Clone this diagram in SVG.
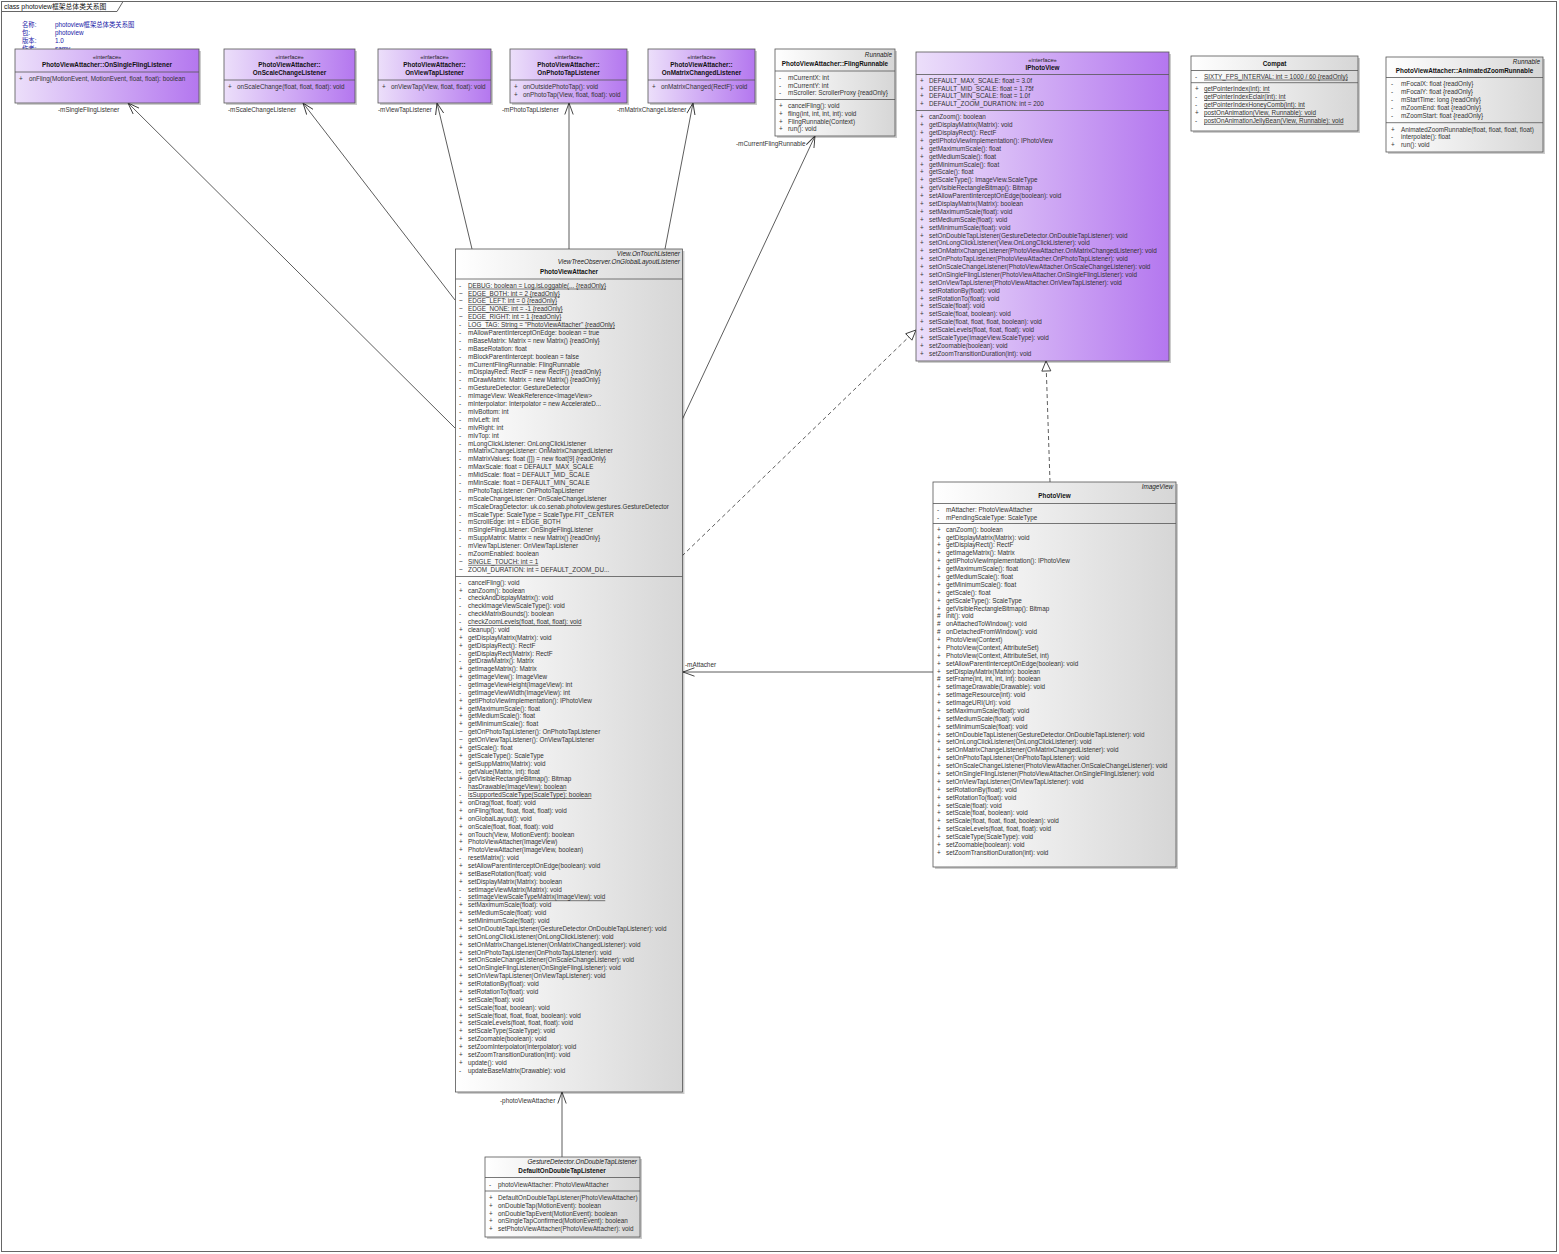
<svg xmlns="http://www.w3.org/2000/svg" width="1559" height="1254" viewBox="0 0 1559 1254">
<style>
.f{font-family:"Liberation Sans",Arial,"Noto Sans CJK SC",sans-serif;font-size:6.35px;fill:#333}
.st{font-size:5.8px;fill:#222}
.nm{font-weight:bold;fill:#111}
.it{font-style:italic;fill:#222}
.u{text-decoration:underline}
.hd{fill:#1a1aa8}
.bp{fill:url(#gp);stroke:#555;stroke-width:0.8}
.bg{fill:url(#gg);stroke:#555;stroke-width:0.8}
.sh{fill:#000;opacity:0.2}
.dv{stroke:#555;stroke-width:0.8}
.cn{stroke:#333;stroke-width:0.8;fill:none}
.ds{stroke-dasharray:4 3}
</style>
<defs>
<linearGradient id="gp" x1="0" y1="0" x2="1" y2="0"><stop offset="0" stop-color="#ecdffa"/><stop offset="1" stop-color="#b477ef"/></linearGradient>
<linearGradient id="gg" x1="0" y1="0" x2="1" y2="0"><stop offset="0" stop-color="#ffffff"/><stop offset="1" stop-color="#d6d6d6"/></linearGradient>
<marker id="open" viewBox="0 0 12 10" refX="11.5" refY="5" markerWidth="12" markerHeight="10" markerUnits="userSpaceOnUse" orient="auto"><path d="M0,0.8 L11.5,5 L0,9.2" fill="none" stroke="#333" stroke-width="0.9"/></marker>
<marker id="tri" viewBox="0 0 12 12" refX="11" refY="6" markerWidth="12" markerHeight="12" markerUnits="userSpaceOnUse" orient="auto"><path d="M1,1.5 L11,6 L1,10.5 Z" fill="#fff" stroke="#333" stroke-width="0.9"/></marker>
<clipPath id="clipDT"><rect x="485" y="1157" width="155" height="80"/></clipPath>
</defs>
<rect x="0" y="0" width="1559" height="1254" fill="#fff"/>
<g id="frame">
<rect x="1.5" y="1.5" width="1555" height="1250" fill="none" stroke="#666" stroke-width="1"/>
<path d="M1.5,11.5 H117 L123,1.5" fill="none" stroke="#666" stroke-width="1"/>
<text class="f" x="4" y="8.5" style="fill:#111;font-size:6.8px">class photoview框架总体类关系图</text>
</g>
<g id="info">
<text class="f hd" x="22" y="26.5">名称:</text><text class="f hd" x="55" y="26.5">photoview框架总体类关系图</text>
<text class="f hd" x="22" y="35">包:</text><text class="f hd" x="55" y="35">photoview</text>
<text class="f hd" x="22" y="43">版本:</text><text class="f hd" x="55" y="43">1.0</text>
<text class="f hd" x="22" y="51">作者:</text><text class="f hd" x="55" y="51">samy</text>
</g>

<g id="connectors">
<path class="cn" d="M455,428 L128,103" marker-end="url(#open)"/>
<path class="cn" d="M455,300 L303,103" marker-end="url(#open)"/>
<path class="cn" d="M472,249 L437,103" marker-end="url(#open)"/>
<path class="cn" d="M569,249 L569,103" marker-end="url(#open)"/>
<path class="cn" d="M665,249 L693,103" marker-end="url(#open)"/>
<path class="cn" d="M682,420 L815,136" marker-end="url(#open)"/>
<path class="cn" d="M933,672 L683,672" marker-end="url(#open)"/>
<path class="cn" d="M562,1157 L562,1092" marker-end="url(#open)"/>
<path class="cn ds" d="M682,556 L916,330" marker-end="url(#tri)"/>
<path class="cn ds" d="M1050,482 L1046,361" marker-end="url(#tri)"/>
<text class="f" x="58" y="112">-mSingleFlingListener</text>
<text class="f" x="228" y="112">-mScaleChangeListener</text>
<text class="f" x="378" y="112">-mViewTapListener</text>
<text class="f" x="502" y="112">-mPhotoTapListener</text>
<text class="f" x="617" y="112">-mMatrixChangeListener</text>
<text class="f" x="736" y="146">-mCurrentFlingRunnable</text>
<text class="f" x="685" y="667">-mAttacher</text>
<text class="f" x="500" y="1103">-photoViewAttacher</text>
</g>

<g id="OnSingleFlingListener">
<rect class="sh" x="17" y="51" width="184" height="54"/>
<rect class="bp" x="15" y="49" width="184" height="54"/>
<text class="f st" x="107" y="59" text-anchor="middle">«interface»</text>
<text class="f nm" x="107" y="66.5" text-anchor="middle">PhotoViewAttacher::OnSingleFlingListener</text>
<line class="dv" x1="15" y1="72" x2="199" y2="72"/>
<text class="f" x="19" y="80.5">+</text><text class="f" x="29" y="80.5">onFling(MotionEvent, MotionEvent, float, float): boolean</text>
</g>

<g id="OnScaleChangeListener">
<rect class="sh" x="226" y="51" width="131" height="54"/>
<rect class="bp" x="224" y="49" width="131" height="54"/>
<text class="f st" x="289.5" y="59" text-anchor="middle">«interface»</text>
<text class="f nm" x="289.5" y="66.5" text-anchor="middle">PhotoViewAttacher::</text>
<text class="f nm" x="289.5" y="74.5" text-anchor="middle">OnScaleChangeListener</text>
<line class="dv" x1="224" y1="80" x2="355" y2="80"/>
<text class="f" x="228" y="88.5">+</text><text class="f" x="237" y="88.5">onScaleChange(float, float, float): void</text>
</g>

<g id="OnViewTapListener">
<rect class="sh" x="380" y="51" width="113" height="54"/>
<rect class="bp" x="378" y="49" width="113" height="54"/>
<text class="f st" x="434.5" y="59" text-anchor="middle">«interface»</text>
<text class="f nm" x="434.5" y="66.5" text-anchor="middle">PhotoViewAttacher::</text>
<text class="f nm" x="434.5" y="74.5" text-anchor="middle">OnViewTapListener</text>
<line class="dv" x1="378" y1="80" x2="491" y2="80"/>
<text class="f" x="382" y="88.5">+</text><text class="f" x="391" y="88.5">onViewTap(View, float, float): void</text>
</g>

<g id="OnPhotoTapListener">
<rect class="sh" x="512" y="51" width="117" height="54"/>
<rect class="bp" x="510" y="49" width="117" height="54"/>
<text class="f st" x="568.5" y="59" text-anchor="middle">«interface»</text>
<text class="f nm" x="568.5" y="66.5" text-anchor="middle">PhotoViewAttacher::</text>
<text class="f nm" x="568.5" y="74.5" text-anchor="middle">OnPhotoTapListener</text>
<line class="dv" x1="510" y1="80" x2="627" y2="80"/>
<text class="f" x="514" y="88.5">+</text><text class="f" x="523" y="88.5">onOutsidePhotoTap(): void</text>
<text class="f" x="514" y="96.5">+</text><text class="f" x="523" y="96.5">onPhotoTap(View, float, float): void</text>
</g>

<g id="OnMatrixChangedListener">
<rect class="sh" x="650" y="51" width="107" height="54"/>
<rect class="bp" x="648" y="49" width="107" height="54"/>
<text class="f st" x="701.5" y="59" text-anchor="middle">«interface»</text>
<text class="f nm" x="701.5" y="66.5" text-anchor="middle">PhotoViewAttacher::</text>
<text class="f nm" x="701.5" y="74.5" text-anchor="middle">OnMatrixChangedListener</text>
<line class="dv" x1="648" y1="80" x2="755" y2="80"/>
<text class="f" x="652" y="88.5">+</text><text class="f" x="661" y="88.5">onMatrixChanged(RectF): void</text>
</g>

<g id="FlingRunnable">
<rect class="sh" x="777" y="51" width="120" height="87"/>
<rect class="bg" x="775" y="49" width="120" height="87"/>
<text class="f it" x="892" y="57" text-anchor="end">Runnable</text>
<text class="f nm" x="835" y="66" text-anchor="middle">PhotoViewAttacher::FlingRunnable</text>
<line class="dv" x1="775" y1="71" x2="895" y2="71"/>
<text class="f" x="779" y="80"><tspan x="779">-</tspan><tspan x="779" dy="7.7">-</tspan><tspan x="779" dy="7.7">-</tspan></text>
<text class="f" x="788" y="80"><tspan x="788">mCurrentX: int</tspan><tspan x="788" dy="7.7">mCurrentY: int</tspan><tspan x="788" dy="7.7">mScroller: ScrollerProxy {readOnly}</tspan></text>
<line class="dv" x1="775" y1="99.5" x2="895" y2="99.5"/>
<text class="f" x="779" y="108"><tspan x="779">+</tspan><tspan x="779" dy="7.8">+</tspan><tspan x="779" dy="7.8">+</tspan><tspan x="779" dy="7.8">+</tspan></text>
<text class="f" x="788" y="108"><tspan x="788">cancelFling(): void</tspan><tspan x="788" dy="7.8">fling(int, int, int, int): void</tspan><tspan x="788" dy="7.8">FlingRunnable(Context)</tspan><tspan x="788" dy="7.8">run(): void</tspan></text>
</g>

<g id="IPhotoView">
<rect class="sh" x="918" y="54" width="253" height="309"/>
<rect class="bp" x="916" y="52" width="253" height="309"/>
<text class="f st" x="1042.5" y="62" text-anchor="middle">«interface»</text>
<text class="f nm" x="1042.5" y="69.5" text-anchor="middle">IPhotoView</text>
<line class="dv" x1="916" y1="74.5" x2="1169" y2="74.5"/>
<text class="f" x="920" y="82.7"><tspan x="920">+</tspan><tspan x="920" dy="7.88">+</tspan><tspan x="920" dy="7.88">+</tspan><tspan x="920" dy="7.88">+</tspan></text>
<text class="f" x="929" y="82.7"><tspan x="929">DEFAULT_MAX_SCALE: float = 3.0f</tspan><tspan x="929" dy="7.88">DEFAULT_MID_SCALE: float = 1.75f</tspan><tspan x="929" dy="7.88">DEFAULT_MIN_SCALE: float = 1.0f</tspan><tspan x="929" dy="7.88">DEFAULT_ZOOM_DURATION: int = 200</tspan></text>
<line class="dv" x1="916" y1="110.5" x2="1169" y2="110.5"/>
<text class="f" x="920" y="119.3"><tspan x="920">+</tspan><tspan x="920" dy="7.88">+</tspan><tspan x="920" dy="7.88">+</tspan><tspan x="920" dy="7.88">+</tspan><tspan x="920" dy="7.88">+</tspan><tspan x="920" dy="7.88">+</tspan><tspan x="920" dy="7.88">+</tspan><tspan x="920" dy="7.88">+</tspan><tspan x="920" dy="7.88">+</tspan><tspan x="920" dy="7.88">+</tspan><tspan x="920" dy="7.88">+</tspan><tspan x="920" dy="7.88">+</tspan><tspan x="920" dy="7.88">+</tspan><tspan x="920" dy="7.88">+</tspan><tspan x="920" dy="7.88">+</tspan><tspan x="920" dy="7.88">+</tspan><tspan x="920" dy="7.88">+</tspan><tspan x="920" dy="7.88">+</tspan><tspan x="920" dy="7.88">+</tspan><tspan x="920" dy="7.88">+</tspan><tspan x="920" dy="7.88">+</tspan><tspan x="920" dy="7.88">+</tspan><tspan x="920" dy="7.88">+</tspan><tspan x="920" dy="7.88">+</tspan><tspan x="920" dy="7.88">+</tspan><tspan x="920" dy="7.88">+</tspan><tspan x="920" dy="7.88">+</tspan><tspan x="920" dy="7.88">+</tspan><tspan x="920" dy="7.88">+</tspan><tspan x="920" dy="7.88">+</tspan><tspan x="920" dy="7.88">+</tspan></text>
<text class="f" x="929" y="119.3"><tspan x="929">canZoom(): boolean</tspan><tspan x="929" dy="7.88">getDisplayMatrix(Matrix): void</tspan><tspan x="929" dy="7.88">getDisplayRect(): RectF</tspan><tspan x="929" dy="7.88">getIPhotoViewImplementation(): IPhotoView</tspan><tspan x="929" dy="7.88">getMaximumScale(): float</tspan><tspan x="929" dy="7.88">getMediumScale(): float</tspan><tspan x="929" dy="7.88">getMinimumScale(): float</tspan><tspan x="929" dy="7.88">getScale(): float</tspan><tspan x="929" dy="7.88">getScaleType(): ImageView.ScaleType</tspan><tspan x="929" dy="7.88">getVisibleRectangleBitmap(): Bitmap</tspan><tspan x="929" dy="7.88">setAllowParentInterceptOnEdge(boolean): void</tspan><tspan x="929" dy="7.88">setDisplayMatrix(Matrix): boolean</tspan><tspan x="929" dy="7.88">setMaximumScale(float): void</tspan><tspan x="929" dy="7.88">setMediumScale(float): void</tspan><tspan x="929" dy="7.88">setMinimumScale(float): void</tspan><tspan x="929" dy="7.88">setOnDoubleTapListener(GestureDetector.OnDoubleTapListener): void</tspan><tspan x="929" dy="7.88">setOnLongClickListener(View.OnLongClickListener): void</tspan><tspan x="929" dy="7.88">setOnMatrixChangeListener(PhotoViewAttacher.OnMatrixChangedListener): void</tspan><tspan x="929" dy="7.88">setOnPhotoTapListener(PhotoViewAttacher.OnPhotoTapListener): void</tspan><tspan x="929" dy="7.88">setOnScaleChangeListener(PhotoViewAttacher.OnScaleChangeListener): void</tspan><tspan x="929" dy="7.88">setOnSingleFlingListener(PhotoViewAttacher.OnSingleFlingListener): void</tspan><tspan x="929" dy="7.88">setOnViewTapListener(PhotoViewAttacher.OnViewTapListener): void</tspan><tspan x="929" dy="7.88">setRotationBy(float): void</tspan><tspan x="929" dy="7.88">setRotationTo(float): void</tspan><tspan x="929" dy="7.88">setScale(float): void</tspan><tspan x="929" dy="7.88">setScale(float, boolean): void</tspan><tspan x="929" dy="7.88">setScale(float, float, float, boolean): void</tspan><tspan x="929" dy="7.88">setScaleLevels(float, float, float): void</tspan><tspan x="929" dy="7.88">setScaleType(ImageView.ScaleType): void</tspan><tspan x="929" dy="7.88">setZoomable(boolean): void</tspan><tspan x="929" dy="7.88">setZoomTransitionDuration(int): void</tspan></text>
</g>

<g id="Compat">
<rect class="sh" x="1193" y="58" width="167" height="75"/>
<rect class="bg" x="1191" y="56" width="167" height="75"/>
<text class="f nm" x="1274.5" y="66" text-anchor="middle">Compat</text>
<line class="dv" x1="1191" y1="70.5" x2="1358" y2="70.5"/>
<text class="f" x="1195" y="78.7">-</text><text class="f u" x="1204" y="78.7">SIXTY_FPS_INTERVAL: int = 1000 / 60 {readOnly}</text>
<line class="dv" x1="1191" y1="82.7" x2="1358" y2="82.7"/>
<text class="f" x="1195" y="91.3"><tspan x="1195">+</tspan><tspan x="1195" dy="7.9">-</tspan><tspan x="1195" dy="7.9">-</tspan><tspan x="1195" dy="7.9">+</tspan><tspan x="1195" dy="7.9">-</tspan></text>
<text class="f u" x="1204" y="91.3"><tspan x="1204">getPointerIndex(int): int</tspan><tspan x="1204" dy="7.9">getPointerIndexEclair(int): int</tspan><tspan x="1204" dy="7.9">getPointerIndexHoneyComb(int): int</tspan><tspan x="1204" dy="7.9">postOnAnimation(View, Runnable): void</tspan><tspan x="1204" dy="7.9">postOnAnimationJellyBean(View, Runnable): void</tspan></text>
</g>

<g id="AnimatedZoomRunnable">
<rect class="sh" x="1388" y="59" width="157" height="95"/>
<rect class="bg" x="1386" y="57" width="157" height="95"/>
<text class="f it" x="1540" y="63.7" text-anchor="end">Runnable</text>
<text class="f nm" x="1464.5" y="73" text-anchor="middle">PhotoViewAttacher::AnimatedZoomRunnable</text>
<line class="dv" x1="1386" y1="77.5" x2="1543" y2="77.5"/>
<text class="f" x="1391" y="86.3"><tspan x="1391">-</tspan><tspan x="1391" dy="7.9">-</tspan><tspan x="1391" dy="7.9">-</tspan><tspan x="1391" dy="7.9">-</tspan><tspan x="1391" dy="7.9">-</tspan></text>
<text class="f" x="1401" y="86.3"><tspan x="1401">mFocalX: float {readOnly}</tspan><tspan x="1401" dy="7.9">mFocalY: float {readOnly}</tspan><tspan x="1401" dy="7.9">mStartTime: long {readOnly}</tspan><tspan x="1401" dy="7.9">mZoomEnd: float {readOnly}</tspan><tspan x="1401" dy="7.9">mZoomStart: float {readOnly}</tspan></text>
<line class="dv" x1="1386" y1="122.7" x2="1543" y2="122.7"/>
<text class="f" x="1391" y="131.5"><tspan x="1391">+</tspan><tspan x="1391" dy="7.9">-</tspan><tspan x="1391" dy="7.9">+</tspan></text>
<text class="f" x="1401" y="131.5"><tspan x="1401">AnimatedZoomRunnable(float, float, float, float)</tspan><tspan x="1401" dy="7.9">interpolate(): float</tspan><tspan x="1401" dy="7.9">run(): void</tspan></text>
</g>

<g id="PhotoViewAttacher">
<rect class="sh" x="457.5" y="251" width="227" height="843"/>
<rect class="bg" x="455.5" y="249" width="227" height="843"/>
<text class="f it" x="680" y="256.3" text-anchor="end">View.OnTouchListener</text>
<text class="f it" x="680" y="264.3" text-anchor="end">ViewTreeObserver.OnGlobalLayoutListener</text>
<text class="f nm" x="569" y="273.7" text-anchor="middle">PhotoViewAttacher</text>
<line class="dv" x1="455.5" y1="279" x2="682.5" y2="279"/>
<text class="f" x="459" y="287.7"><tspan x="459">-</tspan><tspan x="459" dy="7.89">~</tspan><tspan x="459" dy="7.89">~</tspan><tspan x="459" dy="7.89">~</tspan><tspan x="459" dy="7.89">~</tspan><tspan x="459" dy="7.89">-</tspan><tspan x="459" dy="7.89">-</tspan><tspan x="459" dy="7.89">-</tspan><tspan x="459" dy="7.89">-</tspan><tspan x="459" dy="7.89">-</tspan><tspan x="459" dy="7.89">-</tspan><tspan x="459" dy="7.89">-</tspan><tspan x="459" dy="7.89">-</tspan><tspan x="459" dy="7.89">-</tspan><tspan x="459" dy="7.89">-</tspan><tspan x="459" dy="7.89">-</tspan><tspan x="459" dy="7.89">-</tspan><tspan x="459" dy="7.89">-</tspan><tspan x="459" dy="7.89">-</tspan><tspan x="459" dy="7.89">-</tspan><tspan x="459" dy="7.89">-</tspan><tspan x="459" dy="7.89">-</tspan><tspan x="459" dy="7.89">-</tspan><tspan x="459" dy="7.89">-</tspan><tspan x="459" dy="7.89">-</tspan><tspan x="459" dy="7.89">-</tspan><tspan x="459" dy="7.89">-</tspan><tspan x="459" dy="7.89">-</tspan><tspan x="459" dy="7.89">-</tspan><tspan x="459" dy="7.89">-</tspan><tspan x="459" dy="7.89">-</tspan><tspan x="459" dy="7.89">-</tspan><tspan x="459" dy="7.89">-</tspan><tspan x="459" dy="7.89">-</tspan><tspan x="459" dy="7.89">-</tspan><tspan x="459" dy="7.89">~</tspan><tspan x="459" dy="7.89">~</tspan></text>
<text class="f" x="468" y="287.7"><tspan x="468" class="u">DEBUG: boolean = Log.isLoggable(... {readOnly}</tspan><tspan x="468" dy="7.89" class="u">EDGE_BOTH: int = 2 {readOnly}</tspan><tspan x="468" dy="7.89" class="u">EDGE_LEFT: int = 0 {readOnly}</tspan><tspan x="468" dy="7.89" class="u">EDGE_NONE: int = -1 {readOnly}</tspan><tspan x="468" dy="7.89" class="u">EDGE_RIGHT: int = 1 {readOnly}</tspan><tspan x="468" dy="7.89" class="u">LOG_TAG: String = "PhotoViewAttacher" {readOnly}</tspan><tspan x="468" dy="7.89">mAllowParentInterceptOnEdge: boolean = true</tspan><tspan x="468" dy="7.89">mBaseMatrix: Matrix = new Matrix() {readOnly}</tspan><tspan x="468" dy="7.89">mBaseRotation: float</tspan><tspan x="468" dy="7.89">mBlockParentIntercept: boolean = false</tspan><tspan x="468" dy="7.89">mCurrentFlingRunnable: FlingRunnable</tspan><tspan x="468" dy="7.89">mDisplayRect: RectF = new RectF() {readOnly}</tspan><tspan x="468" dy="7.89">mDrawMatrix: Matrix = new Matrix() {readOnly}</tspan><tspan x="468" dy="7.89">mGestureDetector: GestureDetector</tspan><tspan x="468" dy="7.89">mImageView: WeakReference&lt;ImageView&gt;</tspan><tspan x="468" dy="7.89">mInterpolator: Interpolator = new AccelerateD...</tspan><tspan x="468" dy="7.89">mIvBottom: int</tspan><tspan x="468" dy="7.89">mIvLeft: int</tspan><tspan x="468" dy="7.89">mIvRight: int</tspan><tspan x="468" dy="7.89">mIvTop: int</tspan><tspan x="468" dy="7.89">mLongClickListener: OnLongClickListener</tspan><tspan x="468" dy="7.89">mMatrixChangeListener: OnMatrixChangedListener</tspan><tspan x="468" dy="7.89">mMatrixValues: float ([]) = new float[9] {readOnly}</tspan><tspan x="468" dy="7.89">mMaxScale: float = DEFAULT_MAX_SCALE</tspan><tspan x="468" dy="7.89">mMidScale: float = DEFAULT_MID_SCALE</tspan><tspan x="468" dy="7.89">mMinScale: float = DEFAULT_MIN_SCALE</tspan><tspan x="468" dy="7.89">mPhotoTapListener: OnPhotoTapListener</tspan><tspan x="468" dy="7.89">mScaleChangeListener: OnScaleChangeListener</tspan><tspan x="468" dy="7.89">mScaleDragDetector: uk.co.senab.photoview.gestures.GestureDetector</tspan><tspan x="468" dy="7.89">mScaleType: ScaleType = ScaleType.FIT_CENTER</tspan><tspan x="468" dy="7.89">mScrollEdge: int = EDGE_BOTH</tspan><tspan x="468" dy="7.89">mSingleFlingListener: OnSingleFlingListener</tspan><tspan x="468" dy="7.89">mSuppMatrix: Matrix = new Matrix() {readOnly}</tspan><tspan x="468" dy="7.89">mViewTapListener: OnViewTapListener</tspan><tspan x="468" dy="7.89">mZoomEnabled: boolean</tspan><tspan x="468" dy="7.89" class="u">SINGLE_TOUCH: int = 1</tspan><tspan x="468" dy="7.89">ZOOM_DURATION: int = DEFAULT_ZOOM_DU...</tspan></text>
<line class="dv" x1="455.5" y1="576.5" x2="682.5" y2="576.5"/>
<text class="f" x="459" y="584.7"><tspan x="459">-</tspan><tspan x="459" dy="7.87">+</tspan><tspan x="459" dy="7.87">-</tspan><tspan x="459" dy="7.87">-</tspan><tspan x="459" dy="7.87">-</tspan><tspan x="459" dy="7.87">-</tspan><tspan x="459" dy="7.87">+</tspan><tspan x="459" dy="7.87">+</tspan><tspan x="459" dy="7.87">+</tspan><tspan x="459" dy="7.87">-</tspan><tspan x="459" dy="7.87">-</tspan><tspan x="459" dy="7.87">+</tspan><tspan x="459" dy="7.87">+</tspan><tspan x="459" dy="7.87">-</tspan><tspan x="459" dy="7.87">-</tspan><tspan x="459" dy="7.87">+</tspan><tspan x="459" dy="7.87">+</tspan><tspan x="459" dy="7.87">+</tspan><tspan x="459" dy="7.87">+</tspan><tspan x="459" dy="7.87">~</tspan><tspan x="459" dy="7.87">~</tspan><tspan x="459" dy="7.87">+</tspan><tspan x="459" dy="7.87">+</tspan><tspan x="459" dy="7.87">+</tspan><tspan x="459" dy="7.87">-</tspan><tspan x="459" dy="7.87">+</tspan><tspan x="459" dy="7.87">-</tspan><tspan x="459" dy="7.87">-</tspan><tspan x="459" dy="7.87">+</tspan><tspan x="459" dy="7.87">+</tspan><tspan x="459" dy="7.87">+</tspan><tspan x="459" dy="7.87">+</tspan><tspan x="459" dy="7.87">+</tspan><tspan x="459" dy="7.87">+</tspan><tspan x="459" dy="7.87">+</tspan><tspan x="459" dy="7.87">-</tspan><tspan x="459" dy="7.87">+</tspan><tspan x="459" dy="7.87">+</tspan><tspan x="459" dy="7.87">+</tspan><tspan x="459" dy="7.87">-</tspan><tspan x="459" dy="7.87">-</tspan><tspan x="459" dy="7.87">+</tspan><tspan x="459" dy="7.87">+</tspan><tspan x="459" dy="7.87">+</tspan><tspan x="459" dy="7.87">+</tspan><tspan x="459" dy="7.87">+</tspan><tspan x="459" dy="7.87">+</tspan><tspan x="459" dy="7.87">+</tspan><tspan x="459" dy="7.87">+</tspan><tspan x="459" dy="7.87">+</tspan><tspan x="459" dy="7.87">+</tspan><tspan x="459" dy="7.87">+</tspan><tspan x="459" dy="7.87">+</tspan><tspan x="459" dy="7.87">+</tspan><tspan x="459" dy="7.87">+</tspan><tspan x="459" dy="7.87">+</tspan><tspan x="459" dy="7.87">+</tspan><tspan x="459" dy="7.87">+</tspan><tspan x="459" dy="7.87">+</tspan><tspan x="459" dy="7.87">+</tspan><tspan x="459" dy="7.87">+</tspan><tspan x="459" dy="7.87">+</tspan><tspan x="459" dy="7.87">-</tspan></text>
<text class="f" x="468" y="584.7"><tspan x="468">cancelFling(): void</tspan><tspan x="468" dy="7.87">canZoom(): boolean</tspan><tspan x="468" dy="7.87">checkAndDisplayMatrix(): void</tspan><tspan x="468" dy="7.87">checkImageViewScaleType(): void</tspan><tspan x="468" dy="7.87">checkMatrixBounds(): boolean</tspan><tspan x="468" dy="7.87" class="u">checkZoomLevels(float, float, float): void</tspan><tspan x="468" dy="7.87">cleanup(): void</tspan><tspan x="468" dy="7.87">getDisplayMatrix(Matrix): void</tspan><tspan x="468" dy="7.87">getDisplayRect(): RectF</tspan><tspan x="468" dy="7.87">getDisplayRect(Matrix): RectF</tspan><tspan x="468" dy="7.87">getDrawMatrix(): Matrix</tspan><tspan x="468" dy="7.87">getImageMatrix(): Matrix</tspan><tspan x="468" dy="7.87">getImageView(): ImageView</tspan><tspan x="468" dy="7.87">getImageViewHeight(ImageView): int</tspan><tspan x="468" dy="7.87">getImageViewWidth(ImageView): int</tspan><tspan x="468" dy="7.87">getIPhotoViewImplementation(): IPhotoView</tspan><tspan x="468" dy="7.87">getMaximumScale(): float</tspan><tspan x="468" dy="7.87">getMediumScale(): float</tspan><tspan x="468" dy="7.87">getMinimumScale(): float</tspan><tspan x="468" dy="7.87">getOnPhotoTapListener(): OnPhotoTapListener</tspan><tspan x="468" dy="7.87">getOnViewTapListener(): OnViewTapListener</tspan><tspan x="468" dy="7.87">getScale(): float</tspan><tspan x="468" dy="7.87">getScaleType(): ScaleType</tspan><tspan x="468" dy="7.87">getSuppMatrix(Matrix): void</tspan><tspan x="468" dy="7.87">getValue(Matrix, int): float</tspan><tspan x="468" dy="7.87">getVisibleRectangleBitmap(): Bitmap</tspan><tspan x="468" dy="7.87" class="u">hasDrawable(ImageView): boolean</tspan><tspan x="468" dy="7.87" class="u">isSupportedScaleType(ScaleType): boolean</tspan><tspan x="468" dy="7.87">onDrag(float, float): void</tspan><tspan x="468" dy="7.87">onFling(float, float, float, float): void</tspan><tspan x="468" dy="7.87">onGlobalLayout(): void</tspan><tspan x="468" dy="7.87">onScale(float, float, float): void</tspan><tspan x="468" dy="7.87">onTouch(View, MotionEvent): boolean</tspan><tspan x="468" dy="7.87">PhotoViewAttacher(ImageView)</tspan><tspan x="468" dy="7.87">PhotoViewAttacher(ImageView, boolean)</tspan><tspan x="468" dy="7.87">resetMatrix(): void</tspan><tspan x="468" dy="7.87">setAllowParentInterceptOnEdge(boolean): void</tspan><tspan x="468" dy="7.87">setBaseRotation(float): void</tspan><tspan x="468" dy="7.87">setDisplayMatrix(Matrix): boolean</tspan><tspan x="468" dy="7.87">setImageViewMatrix(Matrix): void</tspan><tspan x="468" dy="7.87" class="u">setImageViewScaleTypeMatrix(ImageView): void</tspan><tspan x="468" dy="7.87">setMaximumScale(float): void</tspan><tspan x="468" dy="7.87">setMediumScale(float): void</tspan><tspan x="468" dy="7.87">setMinimumScale(float): void</tspan><tspan x="468" dy="7.87">setOnDoubleTapListener(GestureDetector.OnDoubleTapListener): void</tspan><tspan x="468" dy="7.87">setOnLongClickListener(OnLongClickListener): void</tspan><tspan x="468" dy="7.87">setOnMatrixChangeListener(OnMatrixChangedListener): void</tspan><tspan x="468" dy="7.87">setOnPhotoTapListener(OnPhotoTapListener): void</tspan><tspan x="468" dy="7.87">setOnScaleChangeListener(OnScaleChangeListener): void</tspan><tspan x="468" dy="7.87">setOnSingleFlingListener(OnSingleFlingListener): void</tspan><tspan x="468" dy="7.87">setOnViewTapListener(OnViewTapListener): void</tspan><tspan x="468" dy="7.87">setRotationBy(float): void</tspan><tspan x="468" dy="7.87">setRotationTo(float): void</tspan><tspan x="468" dy="7.87">setScale(float): void</tspan><tspan x="468" dy="7.87">setScale(float, boolean): void</tspan><tspan x="468" dy="7.87">setScale(float, float, float, boolean): void</tspan><tspan x="468" dy="7.87">setScaleLevels(float, float, float): void</tspan><tspan x="468" dy="7.87">setScaleType(ScaleType): void</tspan><tspan x="468" dy="7.87">setZoomable(boolean): void</tspan><tspan x="468" dy="7.87">setZoomInterpolator(Interpolator): void</tspan><tspan x="468" dy="7.87">setZoomTransitionDuration(int): void</tspan><tspan x="468" dy="7.87">update(): void</tspan><tspan x="468" dy="7.87">updateBaseMatrix(Drawable): void</tspan></text>
</g>

<g id="PhotoView">
<rect class="sh" x="935" y="484" width="243" height="385"/>
<rect class="bg" x="933" y="482" width="243" height="385"/>
<text class="f it" x="1173" y="489.3" text-anchor="end">ImageView</text>
<text class="f nm" x="1054.5" y="498.3" text-anchor="middle">PhotoView</text>
<line class="dv" x1="933" y1="503.5" x2="1176" y2="503.5"/>
<text class="f" x="937" y="511.7"><tspan x="937">-</tspan><tspan x="937" dy="7.88">-</tspan></text>
<text class="f" x="946" y="511.7"><tspan x="946">mAttacher: PhotoViewAttacher</tspan><tspan x="946" dy="7.88">mPendingScaleType: ScaleType</tspan></text>
<line class="dv" x1="933" y1="523.5" x2="1176" y2="523.5"/>
<text class="f" x="937" y="531.7"><tspan x="937">+</tspan><tspan x="937" dy="7.88">+</tspan><tspan x="937" dy="7.88">+</tspan><tspan x="937" dy="7.88">+</tspan><tspan x="937" dy="7.88">+</tspan><tspan x="937" dy="7.88">+</tspan><tspan x="937" dy="7.88">+</tspan><tspan x="937" dy="7.88">+</tspan><tspan x="937" dy="7.88">+</tspan><tspan x="937" dy="7.88">+</tspan><tspan x="937" dy="7.88">+</tspan><tspan x="937" dy="7.88">#</tspan><tspan x="937" dy="7.88">#</tspan><tspan x="937" dy="7.88">#</tspan><tspan x="937" dy="7.88">+</tspan><tspan x="937" dy="7.88">+</tspan><tspan x="937" dy="7.88">+</tspan><tspan x="937" dy="7.88">+</tspan><tspan x="937" dy="7.88">+</tspan><tspan x="937" dy="7.88">#</tspan><tspan x="937" dy="7.88">+</tspan><tspan x="937" dy="7.88">+</tspan><tspan x="937" dy="7.88">+</tspan><tspan x="937" dy="7.88">+</tspan><tspan x="937" dy="7.88">+</tspan><tspan x="937" dy="7.88">+</tspan><tspan x="937" dy="7.88">+</tspan><tspan x="937" dy="7.88">+</tspan><tspan x="937" dy="7.88">+</tspan><tspan x="937" dy="7.88">+</tspan><tspan x="937" dy="7.88">+</tspan><tspan x="937" dy="7.88">+</tspan><tspan x="937" dy="7.88">+</tspan><tspan x="937" dy="7.88">+</tspan><tspan x="937" dy="7.88">+</tspan><tspan x="937" dy="7.88">+</tspan><tspan x="937" dy="7.88">+</tspan><tspan x="937" dy="7.88">+</tspan><tspan x="937" dy="7.88">+</tspan><tspan x="937" dy="7.88">+</tspan><tspan x="937" dy="7.88">+</tspan><tspan x="937" dy="7.88">+</tspan></text>
<text class="f" x="946" y="531.7"><tspan x="946">canZoom(): boolean</tspan><tspan x="946" dy="7.88">getDisplayMatrix(Matrix): void</tspan><tspan x="946" dy="7.88">getDisplayRect(): RectF</tspan><tspan x="946" dy="7.88">getImageMatrix(): Matrix</tspan><tspan x="946" dy="7.88">getIPhotoViewImplementation(): IPhotoView</tspan><tspan x="946" dy="7.88">getMaximumScale(): float</tspan><tspan x="946" dy="7.88">getMediumScale(): float</tspan><tspan x="946" dy="7.88">getMinimumScale(): float</tspan><tspan x="946" dy="7.88">getScale(): float</tspan><tspan x="946" dy="7.88">getScaleType(): ScaleType</tspan><tspan x="946" dy="7.88">getVisibleRectangleBitmap(): Bitmap</tspan><tspan x="946" dy="7.88">init(): void</tspan><tspan x="946" dy="7.88">onAttachedToWindow(): void</tspan><tspan x="946" dy="7.88">onDetachedFromWindow(): void</tspan><tspan x="946" dy="7.88">PhotoView(Context)</tspan><tspan x="946" dy="7.88">PhotoView(Context, AttributeSet)</tspan><tspan x="946" dy="7.88">PhotoView(Context, AttributeSet, int)</tspan><tspan x="946" dy="7.88">setAllowParentInterceptOnEdge(boolean): void</tspan><tspan x="946" dy="7.88">setDisplayMatrix(Matrix): boolean</tspan><tspan x="946" dy="7.88">setFrame(int, int, int, int): boolean</tspan><tspan x="946" dy="7.88">setImageDrawable(Drawable): void</tspan><tspan x="946" dy="7.88">setImageResource(int): void</tspan><tspan x="946" dy="7.88">setImageURI(Uri): void</tspan><tspan x="946" dy="7.88">setMaximumScale(float): void</tspan><tspan x="946" dy="7.88">setMediumScale(float): void</tspan><tspan x="946" dy="7.88">setMinimumScale(float): void</tspan><tspan x="946" dy="7.88">setOnDoubleTapListener(GestureDetector.OnDoubleTapListener): void</tspan><tspan x="946" dy="7.88">setOnLongClickListener(OnLongClickListener): void</tspan><tspan x="946" dy="7.88">setOnMatrixChangeListener(OnMatrixChangedListener): void</tspan><tspan x="946" dy="7.88">setOnPhotoTapListener(OnPhotoTapListener): void</tspan><tspan x="946" dy="7.88">setOnScaleChangeListener(PhotoViewAttacher.OnScaleChangeListener): void</tspan><tspan x="946" dy="7.88">setOnSingleFlingListener(PhotoViewAttacher.OnSingleFlingListener): void</tspan><tspan x="946" dy="7.88">setOnViewTapListener(OnViewTapListener): void</tspan><tspan x="946" dy="7.88">setRotationBy(float): void</tspan><tspan x="946" dy="7.88">setRotationTo(float): void</tspan><tspan x="946" dy="7.88">setScale(float): void</tspan><tspan x="946" dy="7.88">setScale(float, boolean): void</tspan><tspan x="946" dy="7.88">setScale(float, float, float, boolean): void</tspan><tspan x="946" dy="7.88">setScaleLevels(float, float, float): void</tspan><tspan x="946" dy="7.88">setScaleType(ScaleType): void</tspan><tspan x="946" dy="7.88">setZoomable(boolean): void</tspan><tspan x="946" dy="7.88">setZoomTransitionDuration(int): void</tspan></text>
</g>

<g id="DefaultOnDoubleTapListener">
<rect class="sh" x="487" y="1159" width="155" height="80"/>
<rect class="bg" x="485" y="1157" width="155" height="80"/>
<text class="f it" x="637" y="1163.7" text-anchor="end">GestureDetector.OnDoubleTapListener</text>
<text class="f nm" x="562" y="1172.7" text-anchor="middle">DefaultOnDoubleTapListener</text>
<line class="dv" x1="485" y1="1177.5" x2="640" y2="1177.5"/>
<text class="f" x="489" y="1187">-</text><text class="f" x="498" y="1187">photoViewAttacher: PhotoViewAttacher</text>
<line class="dv" x1="485" y1="1191" x2="640" y2="1191"/>
<g clip-path="url(#clipDT)">
<text class="f" x="489" y="1200.3"><tspan x="489">+</tspan><tspan x="489" dy="7.7">+</tspan><tspan x="489" dy="7.7">+</tspan><tspan x="489" dy="7.7">+</tspan><tspan x="489" dy="7.7">+</tspan></text>
<text class="f" x="498" y="1200.3"><tspan x="498">DefaultOnDoubleTapListener(PhotoViewAttacher)</tspan><tspan x="498" dy="7.7">onDoubleTap(MotionEvent): boolean</tspan><tspan x="498" dy="7.7">onDoubleTapEvent(MotionEvent): boolean</tspan><tspan x="498" dy="7.7">onSingleTapConfirmed(MotionEvent): boolean</tspan><tspan x="498" dy="7.7">setPhotoViewAttacher(PhotoViewAttacher): void</tspan></text>
</g>
</g>
</svg>
